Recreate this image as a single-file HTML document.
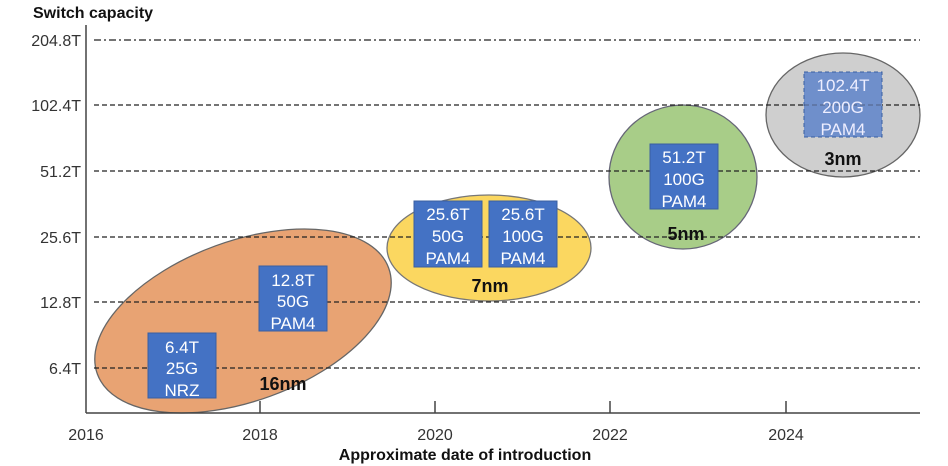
<!DOCTYPE html>
<html><head><style>body{margin:0;background:#fff}svg{display:block}</style></head><body>
<svg width="948" height="466" xmlns="http://www.w3.org/2000/svg" font-family="Liberation Sans, sans-serif">
<rect width="948" height="466" fill="#fff"/>
<ellipse cx="243" cy="321" rx="155" ry="80" transform="rotate(-20 243 321)" fill="#e8a373" stroke="#666" stroke-width="1.3"/>
<ellipse cx="489" cy="248" rx="102" ry="53" fill="#fbd760" stroke="#777" stroke-width="1.3"/>
<ellipse cx="683" cy="177" rx="74" ry="72" fill="#a8cd88" stroke="#667" stroke-width="1.3"/>
<ellipse cx="843" cy="115" rx="77" ry="62" fill="#cfcfcf" stroke="#666" stroke-width="1.3"/>
<g stroke="#222" stroke-width="1.2" fill="none">
<line x1="94" y1="40" x2="920" y2="40" stroke-dasharray="7 3 2 3"/>
<line x1="94" y1="105" x2="920" y2="105" stroke-dasharray="5 3"/>
<line x1="94" y1="171" x2="920" y2="171" stroke-dasharray="5 3"/>
<line x1="94" y1="237" x2="920" y2="237" stroke-dasharray="5 3"/>
<line x1="94" y1="302" x2="920" y2="302" stroke-dasharray="5 3"/>
<line x1="94" y1="368" x2="920" y2="368" stroke-dasharray="5 3"/>
</g>
<g stroke="#444" stroke-width="1.5">
<line x1="86" y1="25" x2="86" y2="413"/>
<line x1="86" y1="413" x2="920" y2="413"/>
<line x1="260" y1="401" x2="260" y2="413"/>
<line x1="435" y1="401" x2="435" y2="413"/>
<line x1="610" y1="401" x2="610" y2="413"/>
<line x1="786" y1="401" x2="786" y2="413"/>
</g>
<g fill="#4472c4" stroke="#3a5fa0">
<rect x="148" y="333" width="68" height="65"/>
<rect x="259" y="266" width="68" height="65"/>
<rect x="414" y="201" width="68" height="66"/>
<rect x="489" y="201" width="68" height="66"/>
<rect x="650" y="144" width="68" height="65"/>
</g>
<rect x="804" y="72" width="78" height="65" fill="#6f8fcb" stroke="#3a5fa0" stroke-dasharray="4 3"/>
<line x1="804" y1="105" x2="882" y2="105" stroke="#334" stroke-dasharray="5 3" opacity="0.5"/>
<g fill="#fff" font-size="17" text-anchor="middle">
<text x="182" y="353">6.4T</text><text x="182" y="374">25G</text><text x="182" y="396">NRZ</text>
<text x="293" y="286">12.8T</text><text x="293" y="307">50G</text><text x="293" y="329">PAM4</text>
<text x="448" y="220">25.6T</text><text x="448" y="242">50G</text><text x="448" y="264">PAM4</text>
<text x="523" y="220">25.6T</text><text x="523" y="242">100G</text><text x="523" y="264">PAM4</text>
<text x="684" y="163">51.2T</text><text x="684" y="185">100G</text><text x="684" y="207">PAM4</text>
<text x="843" y="91" fill="#eef">102.4T</text><text x="843" y="113" fill="#eef">200G</text><text x="843" y="135" fill="#eef">PAM4</text>
</g>
<g font-size="18" font-weight="bold" text-anchor="middle" fill="#111">
<text x="283" y="390">16nm</text>
<text x="490" y="292">7nm</text>
<text x="686" y="240">5nm</text>
<text x="843" y="165">3nm</text>
</g>
<g font-size="16" fill="#333" text-anchor="end">
<text x="81" y="46">204.8T</text><text x="81" y="111">102.4T</text><text x="81" y="177">51.2T</text>
<text x="81" y="243">25.6T</text><text x="81" y="308">12.8T</text><text x="81" y="374">6.4T</text>
</g>
<g font-size="16" fill="#333" text-anchor="middle">
<text x="86" y="440">2016</text><text x="260" y="440">2018</text><text x="435" y="440">2020</text>
<text x="610" y="440">2022</text><text x="786" y="440">2024</text>
</g>
<text x="33" y="18" font-size="16" font-weight="bold" fill="#111">Switch capacity</text>
<text x="465" y="460" font-size="16" font-weight="bold" fill="#111" text-anchor="middle">Approximate date of introduction</text>
</svg>
</body></html>
